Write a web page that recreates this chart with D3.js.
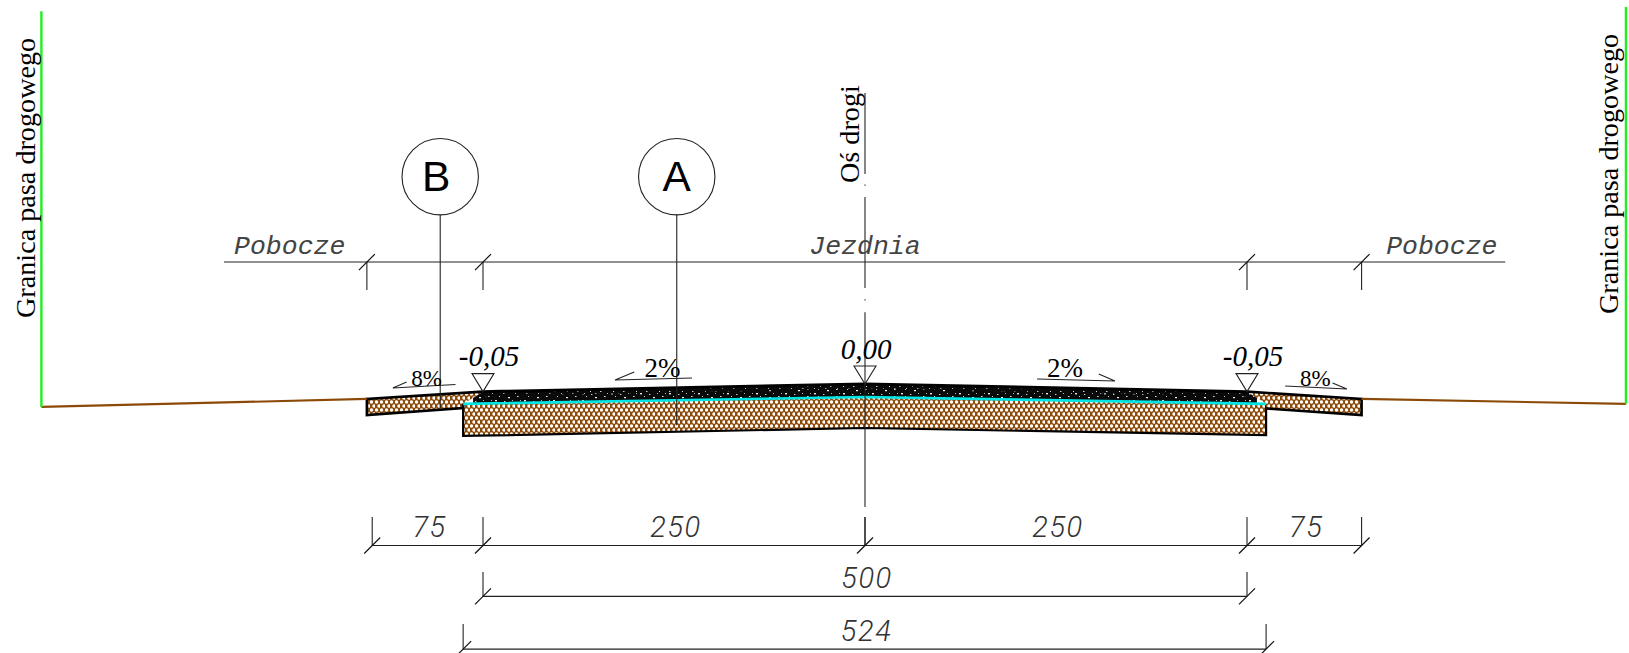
<!DOCTYPE html>
<html><head><meta charset="utf-8">
<script src="https://cdn.jsdelivr.net/npm/d3@7/dist/d3.min.js"></script>
<style>html,body{margin:0;background:#fff}svg{display:block}</style>
</head><body><div id="c"></div>
<script>
// Values: stations in cm from the road axis, elevations in cm from the axis crown
const surfaceStations=[-250,0,250], surfaceElevations=[-5,0,-5];
const wearingBottom=[-8,-2.8,-8];
const binderStations=[-263,0,262.5], binderBottom=[-13,-8.5,-13];
const baseBottom=[-34,-28.8,-33.5];
const leftShoulder=[[-326,-9.8],[-250,-5],[-256.5,-9.2],[-263,-13],[-263,-15.7],[-326,-20.3]];
const rightShoulder=[[250,-5],[325,-9.8],[325,-20.3],[262.5,-16],[262.5,-13],[256.5,-9.2]];
const groundLeft=[[-539,-15],[-326,-9.8]], groundRight=[[325,-9.8],[498,-13]];
const boundaries=[[-539,-15,244],[498,-13,246.7]];
const boundaryLabel="Granica pasa drogowego", axisLabel="Oś drogi";
const axisSegments=[[190.4,137.4],[130.6,129.8],[122.4,62.8],[55.4,54.6],[47,-80.5],[-87,-105.7]];
const zoneStations=[-326,-250,250,325], zoneLabels=["Pobocze","Jezdnia","Pobocze"], zoneLabelStations=[-376.5,0,377.5];
const zoneLevel=79.8, zoneExtent=[-419.5,419], zoneTickEnd=61.5;
const detailLabels=["B","A"], detailStations=[-278,-123.2], detailLevel=135.7, detailRadius=25, detailEnds=[-15.7,-27];
const elevLabels=["-0,05","0,00","-0,05"], elevStations=[-250,0,250], elevValues=[-5,0,-5];
const slopeLabels=["8%","2%","2%","8%"];
const slopeLines=[[[-300,1.3],[-309,-2.6],[-268,-0.3]],[[-151,7.9],[-163.6,2.6],[-113.2,3.9]],[[153,6.5],[163.6,2],[112.6,3.3]],[[306,0.65],[315.4,-3.3],[275,-1.3]]];
const slopeLabelPos=[[-287,-1.3],[-132.6,4.8],[130.9,4.8],[294.8,-1.3]];
const dimChains=[
 {level:-105.7,top:-87,stations:[-322.5,-250,0,250,325],labels:["75","250","250","75"]},
 {level:-139,top:-123,stations:[-250,250],labels:["500"]},
 {level:-173.5,top:-157,stations:[-263,262.5],labels:["524"]}];

const W=1629,H=653;
const x=d3.scaleLinear().domain([0,250]).range([865,1247]);
const y=d3.scaleLinear().domain([0,-5]).range([384,391.64]);
const line=d3.line().x(d=>x(d[0])).y(d=>y(d[1]));
const svg=d3.select("#c").append("svg").attr("width",W).attr("height",H).style("background","#fff");
const defs=svg.append("defs");
const brown="#8c4a08", ink="#222";

// honeycomb hatch
const hex=defs.append("pattern").attr("id","hex").attr("patternUnits","userSpaceOnUse").attr("width",5).attr("height",8);
hex.append("rect").attr("width",5).attr("height",8).attr("fill",brown);
[[1.5,2],[4,6]].forEach(c=>hex.append("circle").attr("cx",c[0]).attr("cy",c[1]).attr("r",1.72).attr("fill","#fff"));
// aggregate speckle
function speckle(id,w,h,dots){const p=defs.append("pattern").attr("id",id).attr("patternUnits","userSpaceOnUse").attr("width",w).attr("height",h);
 p.append("rect").attr("width",w).attr("height",h).attr("fill","#0a0a0a");
 dots.forEach(d=>p.append("rect").attr("x",d[0]).attr("y",d[1]).attr("width",d[2]).attr("height",d[3]).attr("fill","#fff").attr("opacity",d[4]));}
speckle("fine",23,5,[[2,1,1.5,1,.8],[9,3,1,1,.7],[15,1,1,1,.9],[20,3,1.5,1,.6]]);
speckle("coarse",29,7,[[2,1,2,1.4,.9],[6,4,1,1,.8],[11,2,1.4,1,.8],[15,5,2,1.2,.95],[19,1,1,1,.7],[24,4,1.6,1,.85],[27,1,1,1,.7]]);

const g=svg.append("g");
const band=(st,top,bot)=>st.map((s,i)=>[s,top[i]]).concat(st.map((s,i)=>[s,bot[i]]).reverse());

// layers
const baseStations=binderStations;
g.append("path").attr("d",line(band(baseStations,binderBottom,baseBottom))+"Z").attr("fill","url(#hex)");
g.append("path").attr("d",line([[baseStations[0],binderBottom[0]],[baseStations[0],baseBottom[0]],[0,baseBottom[1]],[baseStations[2],baseBottom[2]],[baseStations[2],binderBottom[2]]])).attr("fill","none").attr("stroke","#000").attr("stroke-width",2.2);
[leftShoulder,rightShoulder].forEach(s=>g.append("path").attr("d",line(s)+"Z").attr("fill","url(#hex)"));
g.append("path").attr("d",line([leftShoulder[3],leftShoulder[4],leftShoulder[5],leftShoulder[0],leftShoulder[1]])).attr("fill","none").attr("stroke","#000").attr("stroke-width",2.6);
g.append("path").attr("d",line([rightShoulder[0],rightShoulder[1],rightShoulder[2],rightShoulder[3]])).attr("fill","none").attr("stroke","#000").attr("stroke-width",2.6);
// binder and wearing course
const binderPoly=[[-250,-5],[0,0],[250,-5],[256.5,-9.2],[256.5,-12.7],[0,-8.5],[-256.5,-12.7],[-256.5,-9.2]];
g.append("path").attr("d",line(binderPoly)+"Z").attr("fill","url(#coarse)");
g.append("path").attr("d",line(band(surfaceStations,surfaceElevations,wearingBottom))+"Z").attr("fill","url(#fine)");
g.append("path").attr("d",line(surfaceStations.map((s,i)=>[s,surfaceElevations[i]]))).attr("fill","none").attr("stroke","#000").attr("stroke-width",3);
// membrane
g.append("path").attr("d",line(binderStations.map((s,i)=>[s,binderBottom[i]]))).attr("fill","none").attr("stroke","#00e6e6").attr("stroke-width",2.6);
// ground and boundaries
[groundLeft,groundRight].forEach(s=>g.append("path").attr("d",line(s)).attr("fill","none").attr("stroke",brown).attr("stroke-width",2.2));
boundaries.forEach(b=>g.append("path").attr("d",line([[b[0],b[1]],[b[0],b[2]]])).attr("fill","none").attr("stroke","#22ee22").attr("stroke-width",2.4));

const thin=(pts,w)=>g.append("path").attr("d",line(pts)).attr("fill","none").attr("stroke",ink).attr("stroke-width",w||1.1);
const slash=(s,l)=>g.append("line").attr("x1",x(s)-8).attr("y1",y(l)+8).attr("x2",x(s)+8).attr("y2",y(l)-8).attr("stroke","#111").attr("stroke-width",1.2);
// axis
axisSegments.forEach(a=>thin([[0,a[0]],[0,a[1]]]));
// zones
thin([[zoneExtent[0],zoneLevel],[zoneExtent[1],zoneLevel]]);
zoneStations.forEach(s=>{thin([[s,zoneLevel],[s,zoneTickEnd]]);slash(s,zoneLevel);});
// dimension chains
dimChains.forEach(c=>{
 thin([[c.stations[0],c.level],[c.stations[c.stations.length-1],c.level]]);
 c.stations.forEach(s=>{thin([[s,c.top],[s,c.level]]);slash(s,c.level);});
 c.labels.forEach((t,i)=>g.append("text").attr("class","dim").attr("x",(x(c.stations[i])+x(c.stations[i+1]))/2+2).attr("y",y(c.level)-8.5).text(t));
});
// detail markers
detailLabels.forEach((t,i)=>{
 thin([[detailStations[i],detailLevel-detailRadius],[detailStations[i],detailEnds[i]]]);
 g.append("circle").attr("cx",x(detailStations[i])).attr("cy",y(detailLevel)).attr("r",x(detailRadius)-x(0)).attr("fill","none").attr("stroke",ink).attr("stroke-width",1.1);
 g.append("text").attr("x",x(detailStations[i])-(t==="B"?4:0)).attr("y",y(detailLevel)+14).attr("text-anchor","middle").attr("font-family","Liberation Sans").attr("font-size",42.5).attr("fill","#000").text(t);
});
// elevation marks
elevLabels.forEach((t,i)=>{
 const ax=x(elevStations[i]),ay=y(elevValues[i]);
 g.append("path").attr("d",d3.line()([[ax,ay],[ax-11,ay-18],[ax+11,ay-18]])+"Z").attr("fill","none").attr("stroke",ink).attr("stroke-width",1.1);
 g.append("text").attr("x",ax+(i===1?1:6)).attr("y",ay-25.5).attr("text-anchor","middle").attr("font-family","Liberation Serif").attr("font-style","italic").attr("font-size",29).attr("fill","#000").text(t);
});
// slopes
slopeLines.forEach((p,i)=>{
 thin(p);
 g.append("text").attr("x",x(slopeLabelPos[i][0])).attr("y",y(slopeLabelPos[i][1])).attr("text-anchor","middle").attr("font-family","Liberation Serif").attr("font-size",i===1||i===2?27:23).attr("fill","#000").text(slopeLabels[i]);
});
// zone labels
zoneLabels.forEach((t,i)=>g.append("text").attr("x",x(zoneLabelStations[i])).attr("y",y(zoneLevel)-8).attr("text-anchor","middle").attr("font-family","Liberation Mono").attr("font-style","italic").attr("font-size",26.5).attr("fill","#444").text(t));
// vertical labels
const vert=(t,px,py)=>g.append("text").attr("transform",`translate(${px},${py}) rotate(-90)`).attr("font-family","Liberation Serif").attr("font-size",28.2).attr("fill","#000").text(t);
vert(boundaryLabel,x(boundaries[0][0])-6,318);
vert(boundaryLabel,x(boundaries[1][0])-8,314);
vert(axisLabel,x(0)-6,183);
svg.selectAll("text.dim").attr("text-anchor","middle").attr("font-family","Roboto").attr("font-weight",300).attr("font-style","italic").attr("font-size",29).attr("letter-spacing",1.6).attr("fill","#333");
</script></body></html>
